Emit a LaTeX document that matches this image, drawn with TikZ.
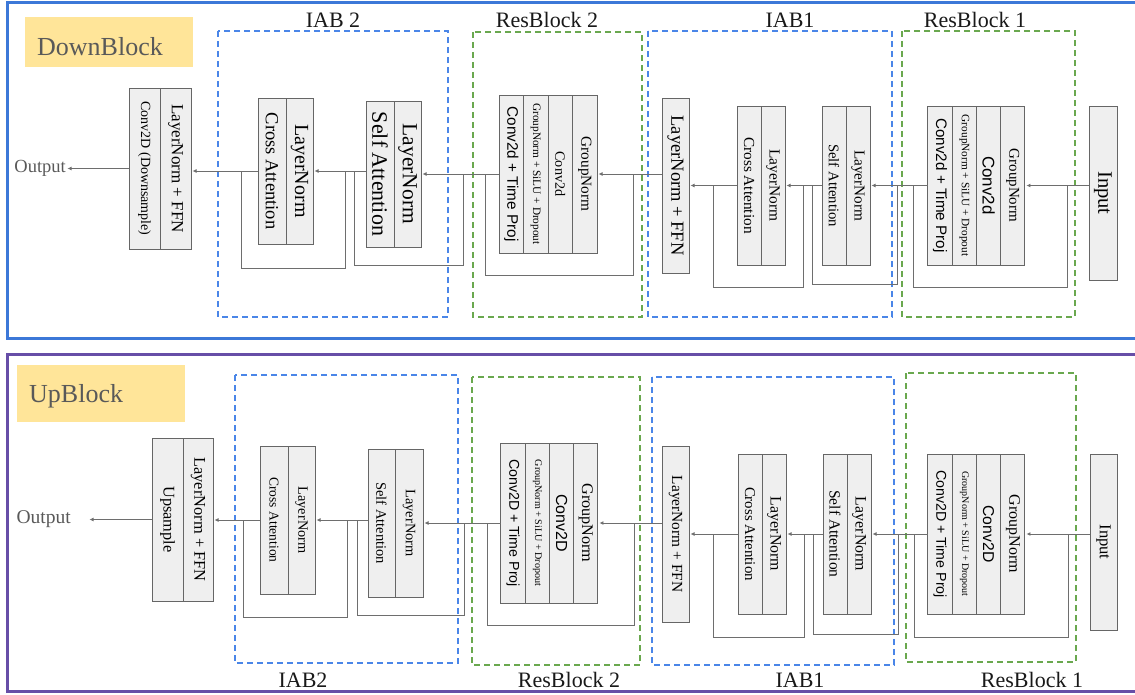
\documentclass[tikz,border=0pt]{standalone}
\usepackage{fontspec}
\setmainfont{Liberation Serif}
\setsansfont{Liberation Sans}
\usepackage{graphicx}
\usetikzlibrary{positioning,calc,arrows.meta}

\definecolor{boxfill}{HTML}{EFEFEF}
\definecolor{boxline}{HTML}{666666}
\definecolor{wirecol}{HTML}{6E6E6E}
\definecolor{iabblue}{HTML}{4A86E8}
\definecolor{resgreen}{HTML}{6AA84F}
\definecolor{downblue}{HTML}{3C78D8}
\definecolor{uppurple}{HTML}{674EA7}
\definecolor{tagyellow}{HTML}{FFE599}
\definecolor{tagtext}{HTML}{595959}

% vertical text inside a layer column
\newcommand{\coltext}[2]{\rotatebox{-90}{\fontsize{#1}{#1}\selectfont #2}}

\tikzset{
	blk/.style={draw=boxline, fill=boxfill, line width=1pt, inner sep=0pt, outer sep=0pt, text=black},
	wire/.style={draw=wirecol, line width=1pt},
	arr/.style={wire, -{Latex[length=4pt,width=4pt]}, shorten >=1.5pt},
	iabgrp/.style={draw=iabblue, line width=1.3pt, dash pattern=on 6pt off 4pt},
	resgrp/.style={draw=resgreen, line width=1.3pt, dash pattern=on 6pt off 4pt},
	grplbl/.style={anchor=base, inner sep=0pt, text=black!90, font=\fontsize{22}{24}\selectfont},
	tagbox/.style={fill=tagyellow, inner sep=0pt, outer sep=0pt},
	tagtxt/.style={anchor=base west, inner sep=0pt, text=tagtext, font=\fontsize{26}{28}\selectfont},
	outlbl/.style={inner sep=0pt, text=tagtext},
}

\begin{document}
\begin{tikzpicture}[x=1pt, y=-1pt]

	\useasboundingbox (0,0) rectangle (1135,694);

	% ---------------- DownBlock ----------------
	\draw [downblue, line width=2.5pt] (7.5,2.5) rectangle (1140,338.5);
	\node [tagbox, anchor=north west, minimum width=168pt, minimum height=50pt] (d-tag) at (25,17) {};
	\node [tagtxt] at ($(d-tag.south west)+(12,-12)$) {DownBlock};

	\draw [iabgrp] (218,31) rectangle (448,317);
	\draw [resgrp] (473,32) rectangle (642,317);
	\draw [iabgrp] (648,31) rectangle (892,317);
	\draw [resgrp] (902,31) rectangle (1075,317);
	\node [grplbl] at (333,27.5) {IAB 2};
	\node [grplbl] at (547,27.5) {ResBlock 2};
	\node [grplbl] at (790,27.5) {IAB1};
	\node [grplbl] at (975,27.5) {ResBlock 1};

	\node [blk, minimum width=31pt, minimum height=161pt] (d-dsa) at (144.5,168.5) {\coltext{14}{Conv2D (Downsample)}};
	\node [blk, minimum width=31pt, minimum height=161pt, right=0pt of d-dsa] (d-dsb) {\coltext{17}{LayerNorm + FFN}};
	\node [outlbl, left=63pt of d-dsa, font=\fontsize{18.5}{20}\selectfont] (d-out) {Output};

	\node [blk, minimum width=28pt, minimum height=146pt] (d-ca2a) at (272,171) {\coltext{18.5}{Cross Attention}};
	\node [blk, minimum width=27pt, minimum height=146pt, right=0pt of d-ca2a] (d-ca2b) {\coltext{20}{LayerNorm}};
	\node [blk, minimum width=28pt, minimum height=146pt] (d-sa2a) at (380,174) {\coltext{22}{Self Attention}};
	\node [blk, minimum width=27pt, minimum height=146pt, right=0pt of d-sa2a] (d-sa2b) {\coltext{21.5}{LayerNorm}};

	\node [blk, minimum width=24.5pt, minimum height=158pt] (d-rb2a) at (511.25,174) {\coltext{15.3}{\sffamily Conv2d + Time Proj}};
	\node [blk, minimum width=24.5pt, minimum height=158pt, right=0pt of d-rb2a] (d-rb2b) {\coltext{11.3}{GroupNorm + SiLU + Dropout}};
	\node [blk, minimum width=24.5pt, minimum height=158pt, right=0pt of d-rb2b] (d-rb2c) {\coltext{14.2}{Conv2d}};
	\node [blk, minimum width=24.5pt, minimum height=158pt, right=0pt of d-rb2c] (d-rb2d) {\coltext{15.3}{GroupNorm}};

	\node [blk, minimum width=27pt, minimum height=175pt] (d-ffn1) at (675.5,185.5) {\coltext{18.5}{LayerNorm + FFN}};
	\node [blk, minimum width=24pt, minimum height=159pt] (d-ca1a) at (749,185.5) {\coltext{15.3}{Cross Attention}};
	\node [blk, minimum width=24pt, minimum height=159pt, right=0pt of d-ca1a] (d-ca1b) {\coltext{15.4}{LayerNorm}};
	\node [blk, minimum width=24pt, minimum height=159pt] (d-sa1a) at (834,185.5) {\coltext{14.7}{Self Attention}};
	\node [blk, minimum width=24pt, minimum height=159pt, right=0pt of d-sa1a] (d-sa1b) {\coltext{15.2}{LayerNorm}};

	\node [blk, minimum width=24.25pt, minimum height=159pt] (d-rb1a) at (940.1,185.5) {\coltext{15.2}{\sffamily Conv2d + Time Proj}};
	\node [blk, minimum width=24.25pt, minimum height=159pt, right=0pt of d-rb1a] (d-rb1b) {\coltext{11.3}{GroupNorm + SiLU + Dropout}};
	\node [blk, minimum width=24.25pt, minimum height=159pt, right=0pt of d-rb1b] (d-rb1c) {\coltext{16.9}{\sffamily Conv2d}};
	\node [blk, minimum width=24.25pt, minimum height=159pt, right=0pt of d-rb1c] (d-rb1d) {\coltext{15}{GroupNorm}};
	\node [blk, minimum width=28pt, minimum height=174pt] (d-in) at (1103,193) {\coltext{20.5}{Input}};

	\draw [arr] (d-in.west |- d-rb1d.east) -- (d-rb1d.east);
	\draw [arr] (d-rb1a.west) -- (d-sa1b.east);
	\draw [arr] (d-sa1a.west) -- (d-ca1b.east);
	\draw [arr] (d-ca1a.west) -- (d-ffn1.east);
	\draw [arr] (d-ffn1.west |- d-rb2d.east) -- (d-rb2d.east);
	\draw [arr] (d-rb2a.west) -- (d-sa2b.east);
	\draw [arr] (d-sa2a.west |- d-ca2b.east) -- (d-ca2b.east);
	\draw [arr] (d-ca2a.west) -- (d-dsb.east |- d-ca2a.west);
	\draw [arr] (d-dsa.west) -- (d-out.east);

	% residual paths
	\coordinate (d-rb1-l) at (913,287);  \coordinate (d-rb1-r) at (1067,287);
	\coordinate (d-sa1-l) at (812,284);  \coordinate (d-sa1-r) at (897,284);
	\coordinate (d-ca1-l) at (713,287);  \coordinate (d-ca1-r) at (803,287);
	\coordinate (d-rb2-l) at (485,275);  \coordinate (d-rb2-r) at (633,275);
	\coordinate (d-sa2-l) at (354,265);  \coordinate (d-sa2-r) at (463,265);
	\coordinate (d-ca2-l) at (241,268);  \coordinate (d-ca2-r) at (345,268);
	\draw [wire] (d-rb1-l |- d-rb1a.west) -- (d-rb1-l) -- (d-rb1-r) -- (d-rb1-r |- d-rb1d.east);
	\draw [wire] (d-sa1-l |- d-sa1a.west) -- (d-sa1-l) -- (d-sa1-r) -- (d-sa1-r |- d-rb1a.west);
	\draw [wire] (d-ca1-l |- d-ca1a.west) -- (d-ca1-l) -- (d-ca1-r) -- (d-ca1-r |- d-sa1a.west);
	\draw [wire] (d-rb2-l |- d-rb2a.west) -- (d-rb2-l) -- (d-rb2-r) -- (d-rb2-r |- d-rb2d.east);
	\draw [wire] (d-sa2-l |- d-ca2b.east) -- (d-sa2-l) -- (d-sa2-r) -- (d-sa2-r |- d-rb2a.west);
	\draw [wire] (d-ca2-l |- d-ca2a.west) -- (d-ca2-l) -- (d-ca2-r) -- (d-ca2-r |- d-ca2b.east);

	% ---------------- UpBlock ----------------
	\draw [uppurple, line width=2.5pt] (7.5,354.5) rectangle (1140,691.5);
	\node [tagbox, anchor=north west, minimum width=168pt, minimum height=57pt] (u-tag) at (17,365) {};
	\node [tagtxt] at ($(u-tag.south west)+(12,-20)$) {UpBlock};

	\draw [iabgrp] (235,375) rectangle (458,663);
	\draw [resgrp] (472,377) rectangle (640,665);
	\draw [iabgrp] (652,377) rectangle (894,665);
	\draw [resgrp] (906,373) rectangle (1076,662);
	\node [grplbl] at (303,687) {IAB2};
	\node [grplbl] at (569,687) {ResBlock 2};
	\node [grplbl] at (800,687) {IAB1};
	\node [grplbl] at (1032,687) {ResBlock 1};

	\node [blk, minimum width=31pt, minimum height=163pt] (u-upa) at (167.5,519.5) {\coltext{16.3}{Upsample}};
	\node [blk, minimum width=30pt, minimum height=163pt, right=0pt of u-upa] (u-upb) {\coltext{16.4}{LayerNorm + FFN}};
	\coordinate [left=64pt of u-upa] (u-end);
	\node [outlbl, left=17pt of u-end, font=\fontsize{19.5}{21}\selectfont] (u-out) {Output};

	\node [blk, minimum width=28pt, minimum height=148pt] (u-ca2a) at (274,520) {\coltext{13.5}{Cross Attention}};
	\node [blk, minimum width=27pt, minimum height=148pt, right=0pt of u-ca2a] (u-ca2b) {\coltext{14.3}{LayerNorm}};
	\node [blk, minimum width=27pt, minimum height=148pt] (u-sa2a) at (381.5,523) {\coltext{14.5}{Self Attention}};
	\node [blk, minimum width=28pt, minimum height=148pt, right=0pt of u-sa2a] (u-sa2b) {\coltext{14.4}{LayerNorm}};

	\node [blk, minimum width=24.25pt, minimum height=160pt] (u-rb2a) at (513.1,523) {\coltext{14.2}{\sffamily Conv2D + Time Proj}};
	\node [blk, minimum width=24.25pt, minimum height=160pt, right=0pt of u-rb2a] (u-rb2b) {\coltext{10.1}{GroupNorm + SiLU + Dropout}};
	\node [blk, minimum width=24.25pt, minimum height=160pt, right=0pt of u-rb2b] (u-rb2c) {\coltext{16}{\sffamily Conv2D}};
	\node [blk, minimum width=24.25pt, minimum height=160pt, right=0pt of u-rb2c] (u-rb2d) {\coltext{16.2}{GroupNorm}};

	\node [blk, minimum width=27pt, minimum height=176pt] (u-ffn1) at (675.5,534) {\coltext{15.4}{LayerNorm + FFN}};
	\node [blk, minimum width=24pt, minimum height=160pt] (u-ca1a) at (750,534) {\coltext{14.9}{Cross Attention}};
	\node [blk, minimum width=24pt, minimum height=160pt, right=0pt of u-ca1a] (u-ca1b) {\coltext{15.9}{LayerNorm}};
	\node [blk, minimum width=24pt, minimum height=160pt] (u-sa1a) at (835,534) {\coltext{15.5}{Self Attention}};
	\node [blk, minimum width=24pt, minimum height=160pt, right=0pt of u-sa1a] (u-sa1b) {\coltext{15.9}{LayerNorm}};

	\node [blk, minimum width=24.25pt, minimum height=160pt] (u-rb1a) at (940.1,534) {\coltext{14.2}{\sffamily Conv2D + Time Proj}};
	\node [blk, minimum width=24.25pt, minimum height=160pt, right=0pt of u-rb1a] (u-rb1b) {\coltext{10}{GroupNorm + SiLU + Dropout}};
	\node [blk, minimum width=24.25pt, minimum height=160pt, right=0pt of u-rb1b] (u-rb1c) {\coltext{15.7}{\sffamily Conv2D}};
	\node [blk, minimum width=24.25pt, minimum height=160pt, right=0pt of u-rb1c] (u-rb1d) {\coltext{16}{GroupNorm}};
	\node [blk, minimum width=27pt, minimum height=176pt] (u-in) at (1103.5,542) {\coltext{16.6}{Input}};

	\draw [arr] (u-in.west |- u-rb1d.east) -- (u-rb1d.east);
	\draw [arr] (u-rb1a.west) -- (u-sa1b.east);
	\draw [arr] (u-sa1a.west) -- (u-ca1b.east);
	\draw [arr] (u-ca1a.west) -- (u-ffn1.east);
	\draw [arr] (u-ffn1.west |- u-rb2d.east) -- (u-rb2d.east);
	\draw [arr] (u-rb2a.west) -- (u-sa2b.east);
	\draw [arr] (u-sa2a.west |- u-ca2b.east) -- (u-ca2b.east);
	\draw [arr] (u-ca2a.west) -- (u-upb.east |- u-ca2a.west);
	\draw [arr] (u-upa.west) -- (u-end);

	% residual paths
	\coordinate (u-rb1-l) at (914,637);  \coordinate (u-rb1-r) at (1068,637);
	\coordinate (u-sa1-l) at (813,634);  \coordinate (u-sa1-r) at (898,634);
	\coordinate (u-ca1-l) at (713,637);  \coordinate (u-ca1-r) at (804,637);
	\coordinate (u-rb2-l) at (487,625);  \coordinate (u-rb2-r) at (634,625);
	\coordinate (u-sa2-l) at (357,615);  \coordinate (u-sa2-r) at (464,615);
	\coordinate (u-ca2-l) at (243,617);  \coordinate (u-ca2-r) at (347,617);
	\draw [wire] (u-rb1-l |- u-rb1a.west) -- (u-rb1-l) -- (u-rb1-r) -- (u-rb1-r |- u-rb1d.east);
	\draw [wire] (u-sa1-l |- u-sa1a.west) -- (u-sa1-l) -- (u-sa1-r) -- (u-sa1-r |- u-rb1a.west);
	\draw [wire] (u-ca1-l |- u-ca1a.west) -- (u-ca1-l) -- (u-ca1-r) -- (u-ca1-r |- u-sa1a.west);
	\draw [wire] (u-rb2-l |- u-rb2a.west) -- (u-rb2-l) -- (u-rb2-r) -- (u-rb2-r |- u-rb2d.east);
	\draw [wire] (u-sa2-l |- u-ca2b.east) -- (u-sa2-l) -- (u-sa2-r) -- (u-sa2-r |- u-rb2a.west);
	\draw [wire] (u-ca2-l |- u-ca2a.west) -- (u-ca2-l) -- (u-ca2-r) -- (u-ca2-r |- u-ca2b.east);

\end{tikzpicture}
\end{document}
